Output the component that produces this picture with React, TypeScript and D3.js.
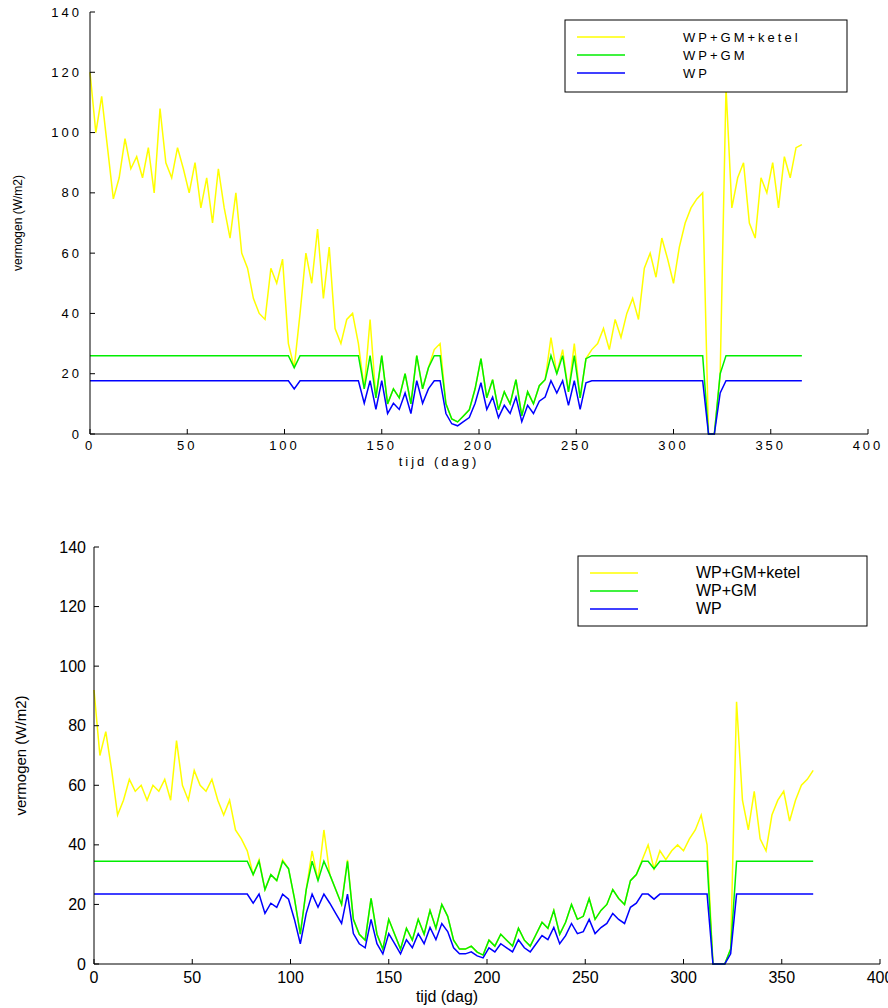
import React from "react";
import * as d3 from "d3";

const days = d3.range(0, 367, 3);
const topTotal = [120,100,112,95,78,85,98,88,92,85,95,80,108,90,85,95,88,80,90,75,85,70,88,75,65,80,60,55,45,40,38,55,50,58,30,22,40,60,50,68,45,62,35,30,38,40,30,15,38,12,26,10,15,12,20,10,26,15,22,28,30,10,5,4,6,8,15,25,12,18,8,14,10,18,6,14,10,16,18,32,20,28,14,30,12,25,28,30,35,28,38,32,40,45,38,55,60,52,65,58,50,62,70,75,78,80,0,0,20,115,75,85,90,70,65,85,80,90,75,92,85,95,96];
const botTotal = [92,70,78,65,50,55,62,58,60,55,60,58,62,55,75,60,55,65,60,58,62,55,50,55,45,42,38,30,35,25,30,28,35,32,22,10,25,38,28,45,30,25,20,35,15,10,8,22,10,5,15,10,5,12,8,15,10,18,12,20,16,8,5,5,6,4,3,8,6,10,8,6,12,8,6,10,14,12,18,10,14,20,15,16,22,15,18,20,25,22,20,28,30,35,40,32,38,35,38,40,38,42,45,50,40,0,0,0,5,88,55,45,58,42,38,50,55,58,48,55,60,62,65];
const xTicks = [0,50,100,150,200,250,300,350,400];
const yTicks = [0,20,40,60,80,100,120,140];
const names = ["WP+GM+ketel","WP+GM","WP"];
const colors = ["#ffff00","#00ee00","#0000ff"];

function Panel({ total, capG, capB, x0, x1, y0, y1, spaced, font, ylab, legend }: any) {
  const x = d3.scaleLinear().domain([0, 400]).range([x0, x1]);
  const y = d3.scaleLinear().domain([0, 140]).range([y0, y1]);
  const green = total.map((v: number) => Math.min(v, capG));
  const blue = green.map((v: number) => Math.min(v * 0.68, capB));
  const line = (arr: number[]) => d3.line<number>().x((_, i) => x(days[i])).y((v) => y(v))(arr) || "";
  const ls = spaced ? 3 : 0;
  return (
    <g fontFamily="Arial, Liberation Sans, sans-serif" fontSize={font}>
      <path d={line(total)} fill="none" stroke={colors[0]} strokeWidth={1.5} />
      <path d={line(green)} fill="none" stroke={colors[1]} strokeWidth={1.5} />
      <path d={line(blue)} fill="none" stroke={colors[2]} strokeWidth={1.5} />
      <line x1={x0} x2={x1} y1={y0} y2={y0} stroke="#000" />
      <line x1={x0} x2={x0} y1={y0} y2={y1} stroke="#000" />
      {xTicks.map((t) => (
        <g key={t}>
          <line x1={x(t)} x2={x(t)} y1={y0} y2={y0 - 5} stroke="#000" />
          <text x={x(t)} y={y0 + font + 3} textAnchor="middle" letterSpacing={ls}>{t}</text>
        </g>
      ))}
      {yTicks.map((t) => (
        <g key={t}>
          <line x1={x0} x2={x0 + 5} y1={y(t)} y2={y(t)} stroke="#000" />
          <text x={x0 - 8} y={y(t) + font * 0.35} textAnchor="end" letterSpacing={ls}>{t}</text>
        </g>
      ))}
      <text x={(x0 + x1) / 2 - 40} y={y0 + font * 2 + 6} textAnchor="middle" letterSpacing={ls}>tijd (dag)</text>
      <text transform={`translate(${x0 - 68},${(y0 + y1) / 2}) rotate(-90)`} textAnchor="middle" fontSize={font - 1}>{ylab}</text>
      <rect x={legend[0]} y={legend[1]} width={legend[2]} height={legend[3]} fill="#fff" stroke="#000" />
      {names.map((n, i) => (
        <g key={n}>
          <line x1={legend[0] + 12} x2={legend[0] + 60} y1={legend[1] + 17 + i * 18} y2={legend[1] + 17 + i * 18} stroke={colors[i]} strokeWidth={1.5} />
          <text x={legend[0] + 118} y={legend[1] + 22 + i * 18} letterSpacing={ls}>{n}</text>
        </g>
      ))}
    </g>
  );
}

export default function App() {
  return (
    <svg width={888} height={1008} style={{ position: "absolute", left: 0, top: 0 }}>
      <rect width={888} height={1008} fill="#fff" />
      <Panel total={topTotal} capG={26} capB={18} x0={90} x1={868} y0={434} y1={12} spaced font={13}
        ylab="vermogen (W/m2)" legend={[565, 20, 282, 72]} />
      <Panel total={botTotal} capG={34.5} capB={23.5} x0={94} x1={880} y0={964} y1={547} font={16}
        ylab="vermogen (W/m2)" legend={[578, 556, 289, 70]} />
    </svg>
  );
}
